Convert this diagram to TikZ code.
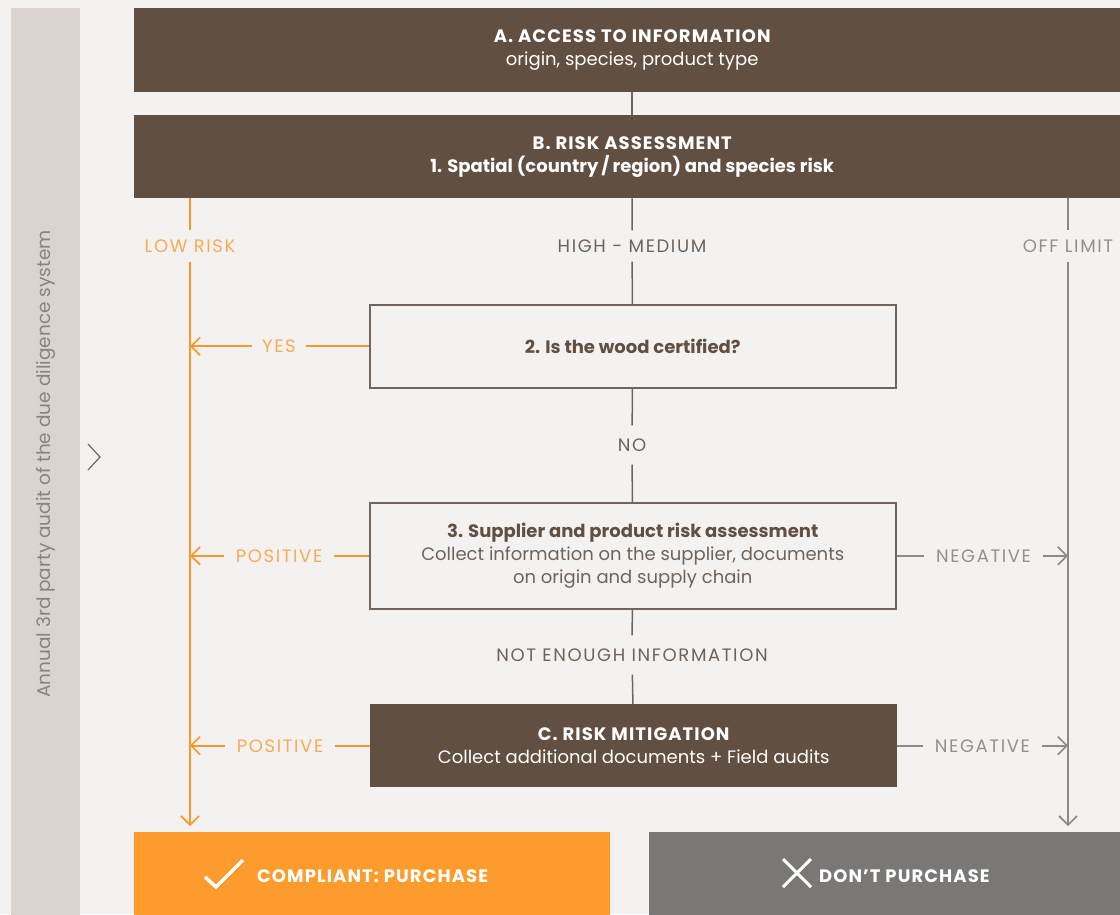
\documentclass[tikz,border=0pt]{standalone}
\usepackage{fontspec}
\setmainfont{Poppins}
\usetikzlibrary{arrows.meta,positioning}
\definecolor{pagebg}{HTML}{F4F2F0}
\definecolor{sidebar}{HTML}{DBD3D0}
\definecolor{sidetext}{HTML}{8C827D}
\definecolor{bark}{HTML}{614F42}
\definecolor{barkline}{HTML}{72645B}
\definecolor{midtext}{HTML}{6F635B}
\definecolor{lowrisk}{HTML}{F8982B}
\definecolor{lowtext}{HTML}{FBAA56}
\definecolor{offlimit}{HTML}{8C8987}
\definecolor{offtext}{HTML}{93908E}
\definecolor{buyfill}{HTML}{FD9B2D}
\definecolor{stopfill}{HTML}{7A7876}
\newcommand{\capslab}[1]{{\addfontfeatures{LetterSpace=9}#1}}
\newcommand{\capshead}[1]{{\addfontfeatures{LetterSpace=6}\bfseries #1}}

\begin{document}
\begin{tikzpicture}[x=1pt, y=-1pt,
  >={Straight Barb[length=9pt,width=18pt]},
  font=\fontsize{18}{23}\selectfont,
  stage/.style={fill=bark, text=white, anchor=north west, align=center, inner sep=0pt},
  query/.style={draw=barkline, line width=1.5pt, fill=pagebg, text=midtext, anchor=north west, align=center, inner sep=0pt},
  final/.style={anchor=north west, inner sep=0pt},
  finaltext/.style={text=white, anchor=west, inner sep=0pt},
  lab/.style={inner xsep=12pt, inner ysep=9pt, text height=13pt, text depth=0pt},
  midlab/.style={lab, text=midtext},
  lowlab/.style={lab, text=lowtext},
  offlab/.style={lab, text=offtext},
  midline/.style={draw=barkline, line width=1.5pt},
  lowline/.style={draw=lowrisk, line width=1.6pt},
  offline/.style={draw=offlimit, line width=1.6pt},
]
\fill[pagebg] (0,0) rectangle (1120,914);
\clip (0,0) rectangle (1120,914);

% side bar
\node[fill=sidebar, text=sidetext, rotate=90, minimum width=912pt, minimum height=69pt, inner sep=0pt, font=\fontsize{18.5}{23}\selectfont] (audit) at (45.5,464) {Annual 3rd party audit of the due diligence system};
\draw[barkline, line width=1.2pt] (88,444) -- (100,457) -- (88,470);

% main stages
\node[stage, minimum width=996pt, minimum height=84pt] (A) at (134,8) {\capshead{A. ACCESS TO INFORMATION}\\origin, species, product type};
\node[stage, minimum width=996pt, minimum height=83pt] (B) at (134,115) {\capshead{B. RISK ASSESSMENT}\\\textbf{1. Spatial (country\,/\,region) and species risk}};
\node[query, minimum width=526pt, minimum height=83pt] (Q2) at (369,304) {\textcolor{bark}{\textbf{2. Is the wood certified?}}};
\node[query, minimum width=526pt, minimum height=106pt] (S3) at (369,502) {\textcolor{bark}{\textbf{3. Supplier and product risk assessment}}\\Collect information on the supplier, documents\\on origin and supply chain};
\node[stage, minimum width=527pt, minimum height=83pt] (C) at (370,704) {\capshead{C. RISK MITIGATION}\\Collect additional documents + Field audits};

% outcomes
\node[final, fill=buyfill, minimum width=476pt, minimum height=90pt] (buy) at (134,832) {};
\node[final, fill=stopfill, minimum width=480pt, minimum height=90pt] (stop) at (649,832) {};
\node[finaltext] (buylab) at (257,876) {\capshead{COMPLIANT: PURCHASE}};
\node[finaltext] (stoplab) at (819,876) {\capshead{DON’T PURCHASE}};
\draw[white, line width=3.5pt] (205,877) -- (216,887) -- (243,860);
\draw[white, line width=3pt] (783,859) -- (811,887) (811,859) -- (783,887);

% centre column
\node[midlab] (highlab) at (632,246) {\capslab{HIGH - MEDIUM}};
\node[midlab, inner ysep=13pt] (nolab) at (632,445) {\capslab{NO}};
\node[midlab, inner ysep=13pt] (infolab) at (632,655) {\capslab{NOT ENOUGH INFORMATION}};
\draw[midline] (A) -- (B);
\draw[midline] (B) -- (highlab) -- (Q2);
\draw[midline] (Q2) -- (nolab) -- (S3);
\draw[midline] (S3) -- (infolab) -- (C);

% low risk column
\node[lowlab] (lowlab) at (190,246) {\capslab{LOW RISK}};
\draw[lowline] (B.south -| lowlab) -- (lowlab);
\draw[lowline, ->, shorten >=6pt] (lowlab) -- (lowlab |- buy.north);
\node[lowlab, inner xsep=10pt] (yeslab) at ([xshift=-90pt]Q2.west) {\capslab{YES}};
\node[lowlab] (pos3lab) at ([xshift=-90pt]S3.west) {\capslab{POSITIVE}};
\node[lowlab] (posClab) at ([xshift=-90pt]C.west) {\capslab{POSITIVE}};
\draw[lowline] (Q2) -- (yeslab);
\draw[lowline, ->] (yeslab) -- (yeslab -| lowlab);
\draw[lowline] (S3) -- (pos3lab);
\draw[lowline, ->] (pos3lab) -- (pos3lab -| lowlab);
\draw[lowline] (C) -- (posClab);
\draw[lowline, ->] (posClab) -- (posClab -| lowlab);

% off limit column
\node[offlab] (offlab) at (1068,246) {\capslab{OFF LIMIT}};
\draw[offline] (B.south -| offlab) -- (offlab);
\draw[offline, ->, shorten >=6pt] (offlab) -- (offlab |- stop.north);
\node[offlab, inner xsep=12pt] (neg3lab) at ([xshift=87pt]S3.east) {\capslab{NEGATIVE}};
\node[offlab, inner xsep=12pt] (negClab) at ([xshift=85pt]C.east) {\capslab{NEGATIVE}};
\draw[offline] (S3) -- (neg3lab);
\draw[offline, ->] (neg3lab) -- (neg3lab -| offlab);
\draw[offline] (C) -- (negClab);
\draw[offline, ->] (negClab) -- (negClab -| offlab);
\end{tikzpicture}
\end{document}
